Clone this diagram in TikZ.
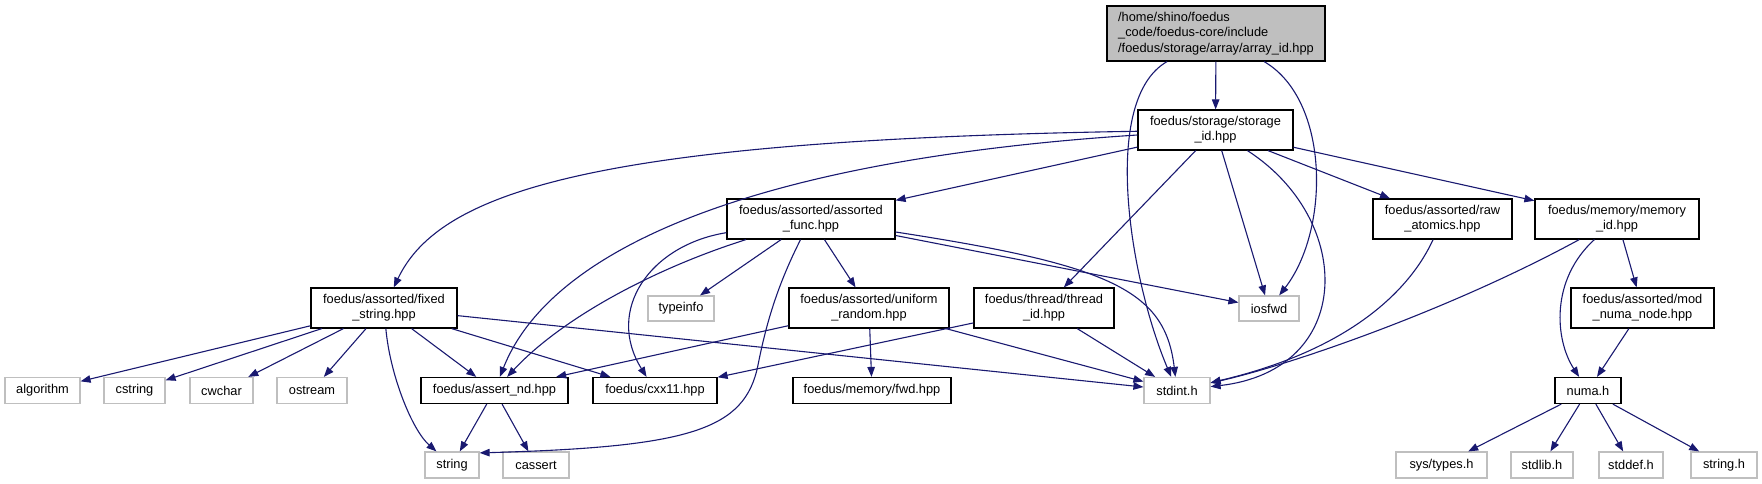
\documentclass[tikz,border=0pt]{standalone}
\usepackage{fontspec}
\setmainfont{Liberation Sans}
\usetikzlibrary{arrows.meta}
\definecolor{edgec}{HTML}{191970}
\definecolor{grayb}{HTML}{BFBFBF}
\begin{document}
\begin{tikzpicture}[x=1pt,y=-1pt,
  box/.style={draw=black, line width=1.2pt, inner sep=0pt, align=center,
    font=\fontsize{12.8}{15.3}\selectfont},
  doc/.style={box},
  sys/.style={box, draw=grayb},
  edge/.style={draw=edgec, line width=1.1pt, -{Triangle[length=10pt,width=7.5pt]}}
]
\useasboundingbox (0,0) rectangle (1762,484);
% row 0
\node[doc, fill=grayb, align=left, minimum width=218, minimum height=55] (root) at (1216,33.5)
  {/home/shino/foedus\\\_code/foedus-core/include\\/foedus/storage/array/array\_id.hpp};
% row 1
\node[doc, minimum width=155, minimum height=40] (storage) at (1215.5,130) {foedus/storage/storage\\\_id.hpp};
% row 2
\node[doc, minimum width=168, minimum height=40] (assorted) at (811,219) {foedus/assorted/assorted\\\_func.hpp};
\node[doc, minimum width=139, minimum height=40] (raw) at (1442.5,219) {foedus/assorted/raw\\\_atomics.hpp};
\node[doc, minimum width=164, minimum height=40] (memory) at (1617,219) {foedus/memory/memory\\\_id.hpp};
% row 3
\node[doc, minimum width=146, minimum height=40] (fixed) at (384,308) {foedus/assorted/fixed\\\_string.hpp};
\node[sys, minimum width=66, minimum height=25] (typeinfo) at (681,308.5) {typeinfo};
\node[doc, minimum width=160, minimum height=40] (uniform) at (869,308) {foedus/assorted/uniform\\\_random.hpp};
\node[doc, minimum width=140, minimum height=40] (thread) at (1044,308) {foedus/thread/thread\\\_id.hpp};
\node[sys, minimum width=60, minimum height=25] (iosfwd) at (1269,308.5) {iosfwd};
\node[doc, minimum width=143, minimum height=40] (modnuma) at (1642.5,308) {foedus/assorted/mod\\\_numa\_node.hpp};
% row 4
\node[sys, minimum width=75, minimum height=26] (algorithm) at (42.5,390.5) {algorithm};
\node[sys, minimum width=61, minimum height=26] (cstring) at (134.5,390.5) {cstring};
\node[sys, minimum width=63, minimum height=26] (cwchar) at (221.5,390.5) {cwchar};
\node[sys, minimum width=70, minimum height=26] (ostream) at (312,390.5) {ostream};
\node[doc, minimum width=147, minimum height=26] (assert) at (494.5,390.5) {foedus/assert\_nd.hpp};
\node[doc, minimum width=124, minimum height=26] (cxx) at (655,390.5) {foedus/cxx11.hpp};
\node[doc, minimum width=158, minimum height=26] (fwd) at (872,390.5) {foedus/memory/fwd.hpp};
\node[sys, minimum width=66, minimum height=26] (stdint) at (1177,390.5) {stdint.h};
\node[doc, minimum width=66, minimum height=26] (numa) at (1588,390.5) {numa.h};
% row 5
\node[sys, minimum width=54, minimum height=26] (string) at (452,465) {string};
\node[sys, minimum width=66, minimum height=26] (cassert) at (536,465) {cassert};
\node[sys, minimum width=91, minimum height=26] (systypes) at (1441.5,465) {sys/types.h};
\node[sys, minimum width=62, minimum height=26] (stdlib) at (1542,465) {stdlib.h};
\node[sys, minimum width=64, minimum height=26] (stddef) at (1631,465) {stddef.h};
\node[sys, minimum width=66, minimum height=26] (stringh) at (1724,465) {string.h};
% edges from root
\draw[edge] (root) -- (storage);
\draw[edge] (root) .. controls (1100,100) and (1130,280) .. (stdint);
\draw[edge] (root) .. controls (1330,100) and (1330,230) .. (iosfwd);
% edges from storage
\draw[edge] (storage) .. controls (600,140) and (440,190) .. (fixed);
\draw[edge] (storage) .. controls (750,160) and (550,250) .. (assert);
\draw[edge] (storage) -- (assorted);
\draw[edge] (storage) -- (thread);
\draw[edge] (storage) -- (iosfwd);
\draw[edge] (storage) .. controls (1355,220) and (1355,370) .. (stdint);
\draw[edge] (storage) -- (raw);
\draw[edge] (storage) -- (memory);
% edges from assorted
\draw[edge] (assorted) .. controls (650,245) and (605,310) .. (cxx);
\draw[edge] (assorted) .. controls (650,270) and (560,320) .. (assert);
\draw[edge] (assorted) -- (typeinfo);
\draw[edge] (assorted) .. controls (775,290) and (765,330) .. (758,365)
  .. controls (745,430) and (690,447) .. ([yshift=-1.5pt]string.north east);
\draw[edge] (assorted) -- (uniform);
\draw[edge] (assorted) -- (iosfwd);
\draw[edge] (assorted) .. controls (1110,265) and (1165,290) .. (stdint);
% raw, memory
\draw[edge] (raw) .. controls (1410,290) and (1350,350) .. (stdint);
\draw[edge] (memory) .. controls (1450,310) and (1290,365) .. (stdint);
\draw[edge] (memory) .. controls (1550,280) and (1555,340) .. (numa);
\draw[edge] (memory) -- (modnuma);
% fixed
\draw[edge] (fixed) -- (algorithm);
\draw[edge] (fixed) -- (cstring);
\draw[edge] (fixed) -- (cwchar);
\draw[edge] (fixed) -- (ostream);
\draw[edge] (fixed) .. controls (390,375) and (412,430) .. (string);
\draw[edge] (fixed) -- (assert);
\draw[edge] (fixed) -- (cxx);
\draw[edge] (fixed) -- (stdint);
% uniform, thread
\draw[edge] (uniform) -- (assert);
\draw[edge] (uniform) -- (fwd);
\draw[edge] (uniform) -- (stdint);
\draw[edge] (thread) -- (cxx);
\draw[edge] (thread) -- (stdint);
% assert
\draw[edge] (assert) -- (string);
\draw[edge] (assert) -- (cassert);
% numa
\draw[edge] (modnuma) -- (numa);
\draw[edge] (numa) -- (systypes);
\draw[edge] (numa) -- (stdlib);
\draw[edge] (numa) -- (stddef);
\draw[edge] (numa) -- (stringh);
\end{tikzpicture}
\end{document}
